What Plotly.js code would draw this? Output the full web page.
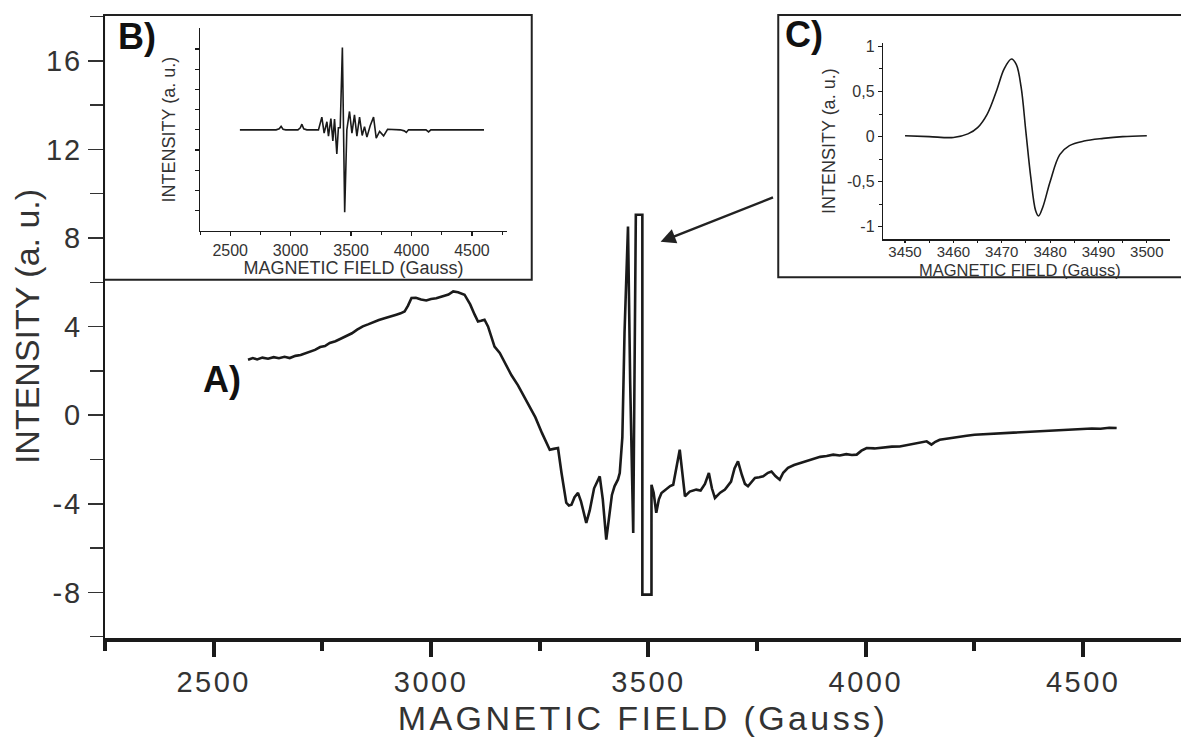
<!DOCTYPE html>
<html>
<head>
<meta charset="utf-8">
<script src="https://cdn.plot.ly/plotly-3.0.1.min.js"></script>
<style>
  html, body { margin: 0; padding: 0; background: #fff; }
  #chart { width: 1181px; height: 742px; }
  #chart .xtitle { letter-spacing: 3.4px; }
  #chart g.xtick text { letter-spacing: 2.5px; }
  #chart g.ytick text { letter-spacing: 2px; }
</style>
</head>
<body>
<div id="chart"></div>
<script>
// ---- Main spectrum A) : magnetic field (Gauss) vs intensity (a. u.)
const fieldA = [2579,2590,2600,2612,2625,2638,2650,2663,2675,2688,2700,2712,2721,2733,2745,2756,2767,2780,2792,2805,2818,2830,2843,2855,2868,2880,2893,2905,2920,2930,2939,2947,2955,2965,2977,2989,3000,3012,3028,3040,3051,3062,3077,3090,3100,3108,3115,3123,3131,3140,3146,3158,3170,3185,3200,3213,3227,3240,3255,3265,3273,3282,3292,3300,3311,3317,3323,3330,3338,3345,3352,3357,3365,3375,3388,3395,3403,3410,3416,3422,3430,3434,3440,3445,3450,3453,3458,3465,3471,3486,3486,3507,3507,3512,3518,3524,3530,3540,3550,3557,3564,3572,3578,3584,3595,3610,3620,3630,3639,3646,3653,3665,3676,3690,3698,3706,3715,3722,3729,3737,3745,3755,3764,3775,3783,3792,3802,3810,3821,3835,3850,3864,3880,3895,3910,3925,3940,3955,3968,3979,3990,4002,4020,4040,4060,4078,4095,4110,4125,4140,4151,4160,4170,4185,4200,4215,4232,4250,4270,4290,4308,4325,4345,4365,4385,4405,4425,4445,4462,4480,4500,4520,4540,4560,4577];
const intensityA = [2.50,2.58,2.52,2.60,2.55,2.62,2.57,2.64,2.58,2.68,2.72,2.80,2.88,2.95,3.08,3.12,3.26,3.34,3.45,3.58,3.70,3.86,4.01,4.10,4.22,4.30,4.38,4.44,4.54,4.60,4.68,4.95,5.29,5.30,5.22,5.18,5.25,5.28,5.36,5.45,5.59,5.55,5.44,5.00,4.55,4.23,4.26,4.31,4.01,3.45,3.10,2.81,2.35,1.80,1.35,0.90,0.40,-0.10,-0.80,-1.25,-1.56,-1.52,-1.48,-2.60,-3.95,-4.08,-4.04,-3.70,-3.51,-3.90,-4.50,-4.86,-4.30,-3.30,-2.76,-3.80,-5.62,-4.50,-3.60,-3.21,-2.90,-2.61,-1.00,3.71,7.20,8.52,1.50,-5.32,9.05,9.05,-8.10,-8.10,-3.14,-3.50,-4.41,-3.80,-3.51,-3.35,-3.20,-3.14,-2.40,-1.56,-2.60,-3.66,-3.45,-3.36,-3.40,-3.10,-2.61,-3.30,-3.74,-3.50,-3.36,-3.00,-2.40,-2.08,-2.70,-3.10,-3.21,-3.00,-2.83,-2.80,-2.76,-2.60,-2.54,-2.75,-2.91,-2.60,-2.38,-2.25,-2.15,-2.08,-1.98,-1.88,-1.84,-1.78,-1.82,-1.76,-1.80,-1.78,-1.60,-1.48,-1.50,-1.45,-1.42,-1.41,-1.35,-1.28,-1.24,-1.18,-1.33,-1.20,-1.11,-1.06,-1.02,-0.98,-0.93,-0.88,-0.86,-0.83,-0.80,-0.78,-0.76,-0.75,-0.73,-0.70,-0.69,-0.66,-0.65,-0.63,-0.62,-0.60,-0.61,-0.57,-0.58];

// ---- Inset B) : simulated spectrum
const fieldB = [2580,2880,2905,2921,2937,2960,3060,3080,3093,3108,3134,3230,3258,3277,3300,3313,3333,3349,3363,3382,3395,3410,3428,3447,3465,3487,3507,3528,3548,3570,3592,3611,3631,3658,3686,3708,3736,3769,3802,3907,3940,3957,3975,4120,4141,4160,4600];
const intensityB = [0,0,0.05,0.17,0.03,0,0,0.10,0.28,0.05,0,0,0.63,-0.16,0.40,-0.31,0.56,-0.55,0.53,-1.20,0.10,0.10,4.08,-4.08,0,0.91,-0.16,0.74,-0.31,0.63,-0.28,0.16,-0.36,0.20,0.63,-0.41,-0.08,-0.30,0.03,0,-0.05,-0.13,0,0,-0.10,0,0];

// ---- Inset C) : single line detail
const fieldC = [3450,3455,3460,3463,3465,3467,3469,3470.5,3472,3473,3474,3475,3476,3477,3477.6,3478.5,3480,3482,3484,3487,3491,3495,3500];
const intensityC = [0.01,0.00,-0.01,0.03,0.10,0.25,0.52,0.75,0.86,0.80,0.55,0.05,-0.45,-0.82,-0.88,-0.78,-0.50,-0.20,-0.10,-0.05,-0.02,0.00,0.01];

// tick labels
const mainXTicks = [2500,3000,3500,4000,4500];
const mainYTicks = [-8,-4,0,4,8,12,16];
const insetBXTicks = [2500,3000,3500,4000,4500];
const insetBYTicks = [-4,-3,-2,-1,0,1,2,3,4];
const insetCXTicks = [3450,3460,3470,3480,3490,3500];
const insetCYTicks = [-1,-0.5,0,0.5,1];
const insetCYText = ['-1','-0,5','0','0,5','1'];

const FONT = 'Liberation Sans, Arial, Helvetica, sans-serif';
const INK = '#1a1a1a';

const traces = [
  {x: fieldA, y: intensityA, type: 'scatter', mode: 'lines', xaxis: 'x', yaxis: 'y',
   line: {color: INK, width: 2.6}, hoverinfo: 'x+y'},
  {x: fieldB, y: intensityB, type: 'scatter', mode: 'lines', xaxis: 'x2', yaxis: 'y2',
   line: {color: INK, width: 1.6}, hoverinfo: 'x+y'},
  {x: fieldC, y: intensityC, type: 'scatter', mode: 'lines', xaxis: 'x3', yaxis: 'y3',
   line: {color: INK, width: 1.6, shape: 'spline', smoothing: 1}, hoverinfo: 'x+y'}
];

const insetTitleFont = {family: FONT, size: 18, color: '#333'};
const insetTickFont = {family: FONT, size: 16, color: '#333'};

const layout = {
  width: 1181, height: 742,
  margin: {l: 105, r: 0, t: 15, b: 103.5},
  paper_bgcolor: '#fff', plot_bgcolor: '#fff',
  showlegend: false,
  font: {family: FONT, color: '#333'},
  xaxis: {
    range: [2250, 4725], showgrid: false, zeroline: false,
    showline: true, linewidth: 4, linecolor: INK,
    ticks: 'outside', ticklen: 15, tickwidth: 4, tickcolor: INK,
    tickvals: mainXTicks, ticktext: mainXTicks.map(String),
    minor: {dtick: 250, tick0: 2250, ticks: 'outside', ticklen: 9, tickwidth: 4, tickcolor: INK, showgrid: false},
    tickfont: {family: FONT, size: 29, color: '#333'},
    title: {text: 'MAGNETIC FIELD (Gauss)', font: {family: FONT, size: 34, color: '#333'}, standoff: 10}
  },
  xaxis4: {
    range: [2250, 4725], overlaying: 'x', side: 'top', anchor: 'y',
    showgrid: false, zeroline: false, showline: true, linewidth: 2, linecolor: '#444',
    ticks: 'inside', ticklen: 3, tickwidth: 1, tickcolor: '#666', dtick: 250, tick0: 2250,
    showticklabels: false
  },
  yaxis: {
    range: [-10.06, 18.07], showgrid: false, zeroline: false,
    showline: true, linewidth: 2, linecolor: INK,
    ticks: 'outside', ticklen: 15, tickwidth: 1.5, tickcolor: '#333',
    tickvals: mainYTicks, ticktext: mainYTicks.map(String),
    minor: {dtick: 2, tick0: 0, ticks: 'outside', ticklen: 13, tickwidth: 1.5, tickcolor: '#333', showgrid: false},
    tickfont: {family: FONT, size: 29, color: '#333'},
    title: {text: 'INTENSITY (a. u.)', font: {family: FONT, size: 34, color: '#333'}, standoff: 0}
  },
  // inset B
  xaxis2: {
    domain: [0.0883, 0.3736], anchor: 'y2', range: [2250, 4790],
    showgrid: false, zeroline: false, showline: true, linewidth: 1.5, linecolor: INK,
    ticks: 'outside', ticklen: 4, tickwidth: 1.2, tickcolor: INK,
    tickvals: insetBXTicks, ticktext: insetBXTicks.map(String),
    minor: {dtick: 250, tick0: 2250, ticks: 'outside', ticklen: 3, tickwidth: 1, tickcolor: INK, showgrid: false},
    tickfont: insetTickFont,
    title: {text: 'MAGNETIC FIELD (Gauss)', font: insetTitleFont, standoff: 2}
  },
  yaxis2: {
    domain: [0.6536, 0.9787], anchor: 'x2', range: [-5.0, 5.03],
    showgrid: false, zeroline: false, showline: true, linewidth: 1.5, linecolor: INK,
    ticks: 'outside', ticklen: 4, tickwidth: 1.2, tickcolor: INK,
    tickvals: insetBYTicks, showticklabels: false,
    title: {text: 'INTENSITY (a. u.)', font: insetTitleFont, standoff: 14}
  },
  // inset C
  xaxis3: {
    domain: [0.7233, 0.9898], anchor: 'y3', range: [3445.5, 3504.8],
    showgrid: false, zeroline: false, showline: true, linewidth: 1.5, linecolor: INK,
    ticks: 'outside', ticklen: 2, tickwidth: 1.2, tickcolor: INK, ticklabelstandoff: -4,
    tickvals: insetCXTicks, ticktext: insetCXTicks.map(String),
    minor: {dtick: 5, tick0: 3445, ticks: 'outside', ticklen: 2, tickwidth: 1, tickcolor: INK, showgrid: false},
    tickfont: {family: FONT, size: 15, color: '#333'}
  },
  yaxis3: {
    domain: [0.6403, 0.9546], anchor: 'x3', range: [-1.136, 1.034],
    showgrid: false, zeroline: false, showline: true, linewidth: 1.5, linecolor: INK,
    ticks: 'outside', ticklen: 4, tickwidth: 1.2, tickcolor: INK,
    tickvals: insetCYTicks, ticktext: insetCYText,
    minor: {dtick: 0.25, tick0: 0, ticks: 'outside', ticklen: 3, tickwidth: 1, tickcolor: INK, showgrid: false},
    tickfont: insetTickFont,
    title: {text: 'INTENSITY (a. u.)', font: insetTitleFont, standoff: 6}
  },
  shapes: [
    {type: 'rect', xref: 'paper', yref: 'paper', x0: -0.0009, x1: 0.3966, y0: 0.575, y1: 1.0,
     line: {color: '#222', width: 2}, fillcolor: '#fff', layer: 'below'},
    {type: 'rect', xref: 'paper', yref: 'paper', x0: 0.6257, x1: 1.01, y0: 0.5790, y1: 1.0,
     line: {color: '#222', width: 2}, fillcolor: '#fff', layer: 'below'}
  ],
  annotations: [
    {text: '<b>A)</b>', xref: 'paper', yref: 'paper', x: 0.1087, y: 0.4146, xanchor: 'center', yanchor: 'middle',
     showarrow: false, font: {family: FONT, size: 36, color: '#111'}},
    {text: '<b>B)</b>', xref: 'paper', yref: 'paper', x: 0.0297, y: 0.9647, xanchor: 'center', yanchor: 'middle',
     showarrow: false, font: {family: FONT, size: 36, color: '#111'}},
    {text: '<b>C)</b>', xref: 'paper', yref: 'paper', x: 0.6496, y: 0.9695, xanchor: 'center', yanchor: 'middle',
     showarrow: false, font: {family: FONT, size: 36, color: '#111'}},
    {text: 'MAGNETIC FIELD (Gauss)', xref: 'paper', yref: 'paper', x: 0.8504, y: 0.5902, xanchor: 'center', yanchor: 'middle',
     showarrow: false, font: {family: FONT, size: 16.5, color: '#333'}},
    {text: '', x: 3528, y: 7.83, xref: 'x', yref: 'y', ax: 3790, ay: 9.86, axref: 'x', ayref: 'y',
     showarrow: true, arrowhead: 2, arrowsize: 1.2, arrowwidth: 2.5, arrowcolor: '#222'}
  ]
};

Plotly.newPlot('chart', traces, layout, {staticPlot: true, displayModeBar: false});
</script>
</body>
</html>
